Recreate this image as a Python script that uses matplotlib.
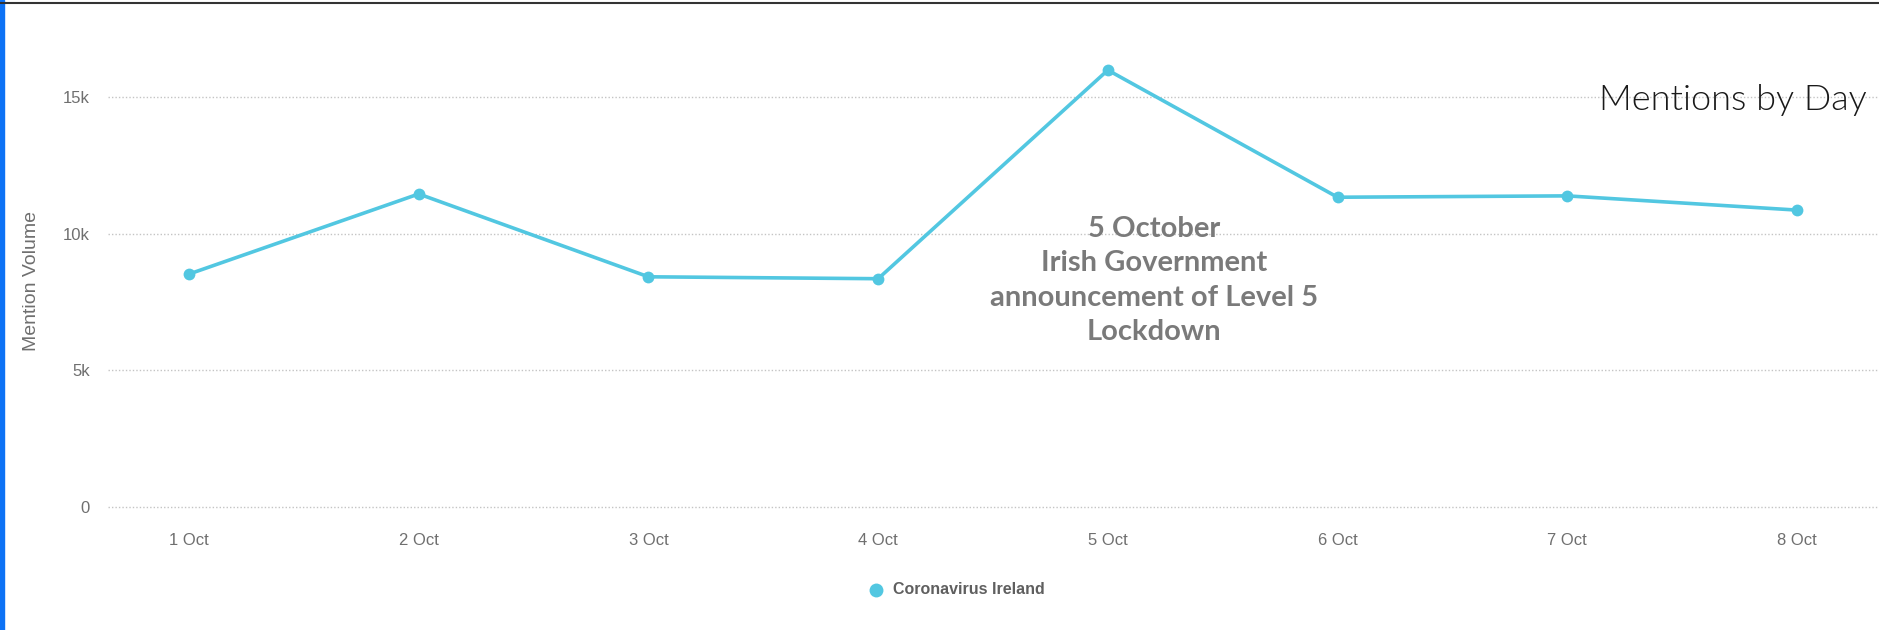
import matplotlib
matplotlib.use("Agg")
import matplotlib.pyplot as plt
from matplotlib.lines import Line2D
from matplotlib.patches import Rectangle

# Daily mention counts
days = ["1 Oct", "2 Oct", "3 Oct", "4 Oct", "5 Oct", "6 Oct", "7 Oct", "8 Oct"]
mentions = [8520, 11450, 8420, 8350, 15980, 11330, 11380, 10860]
y_ticks = [0, 5000, 10000, 15000]
y_tick_labels = ["0", "5k", "10k", "15k"]
series_name = "Coronavirus Ireland"

W, H = 1879, 630
fig = plt.figure(figsize=(W / 100, H / 100), dpi=100)
fig.patch.set_facecolor("white")

line_color = "#52C7E1"
grey_text = "#6f6f6f"

# Axes placed in pixel terms: left edge 108, bottom 507, top 20
ax_left, ax_bottom_px, ax_top_px = 108, 507, 20
ax = fig.add_axes([ax_left / W, (H - ax_bottom_px) / H,
                   (W - ax_left) / W, (ax_bottom_px - ax_top_px) / H])

px_per_day = 229.7
x = list(range(len(days)))
ax.set_xlim(-(189 - ax_left) / px_per_day, len(days) - 1 + (W - 1797) / px_per_day)
px_per_unit = 136.7 / 5000
ax.set_ylim(0, (ax_bottom_px - ax_top_px) / px_per_unit)

ax.plot(x, mentions, color=line_color, lw=2.6, marker="o", ms=8.5,
        markeredgewidth=0, solid_joinstyle="round", zorder=3)

for s in ax.spines.values():
    s.set_visible(False)
ax.set_yticks(y_ticks)
ax.set_yticklabels(y_tick_labels)
ax.set_xticks(x)
ax.set_xticklabels(days)
ax.tick_params(axis="both", length=0, labelsize=12, labelcolor=grey_text)
ax.tick_params(axis="y", pad=13)
ax.tick_params(axis="x", pad=19)
for lab in ax.get_xticklabels() + ax.get_yticklabels():
    lab.set_family("Liberation Sans")
ax.grid(axis="y", color="#c4c4c4", lw=1.0, ls=(0, (1, 1.5)))
for gl in ax.get_ygridlines():
    gl.set_clip_on(False)
ax.set_axisbelow(True)

fig.text(31 / W, 1 - 281 / H, "Mention Volume", rotation=90, ha="center", va="center",
         fontsize=14, color=grey_text, family="Liberation Sans")

# Event annotation
ax.text(4.2, 8290, "5 October\nIrish Government\nannouncement of Level 5\nLockdown",
        ha="center", va="center", multialignment="center", family="Lato",
        fontweight="bold", fontsize=21, color="#7a7a7a", linespacing=1.4, zorder=4)

# Title
fig.text(1867 / W, 1 - 100 / H, "Mentions by Day", ha="right", va="center",
         family="Lato", fontweight=300, fontsize=26, color="#1a1a1a")

# Legend
fig.add_artist(Line2D([876 / W], [1 - 590 / H], marker="o", ms=10, color=line_color,
                      markeredgewidth=0, transform=fig.transFigure))
fig.text(893 / W, 1 - 590 / H, series_name, ha="left", va="center",
         family="Liberation Sans", fontweight="bold", fontsize=11.5, color="#5f5f5f")

# Frame accents
fig.add_artist(Rectangle((0, 0), 3.5 / W, 1, transform=fig.transFigure,
                         color="#0d72f5", zorder=10))
fig.add_artist(Line2D([0, 1], [1 - 3 / H, 1 - 3 / H], transform=fig.transFigure,
                      color="#333333", lw=1.5, zorder=10))

fig.savefig("out.png", dpi=100, facecolor="white")
